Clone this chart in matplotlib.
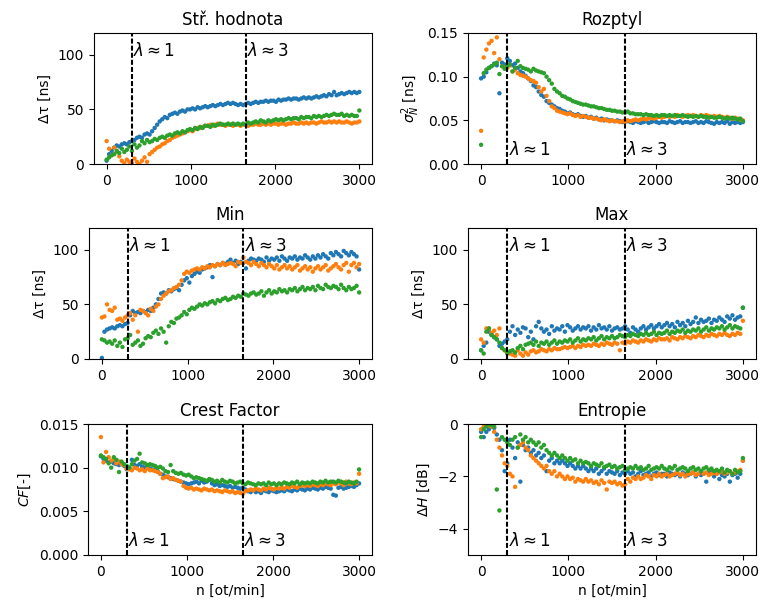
import numpy as np
import matplotlib
matplotlib.use("Agg")
import matplotlib.pyplot as plt

# rpm axis
n_rpm = list(range(0, 3001, 30))

# ---- Stř. hodnota [ns]
mean_blue = [3, 9, 12, 15, 17, 16, 18, 19, 18, 20,
             21, 22, 24, 25, 24, 27, 28, 27, 30, 33,
             36, 39, 41, 43, 42, 45, 46, 47, 46, 48,
             49, 48, 50, 50, 51, 50, 52, 51, 52, 53,
             52, 53, 54, 53, 54, 55, 54, 55, 56, 55,
             56, 55, 54, 55, 54, 55, 56, 55, 56, 57,
             56, 57, 57, 58, 57, 58, 58, 57, 59, 58,
             59, 59, 60, 59, 60, 60, 59, 60, 61, 60,
             61, 60, 61, 62, 61, 62, 63, 62, 64, 63,
             66, 63, 64, 65, 64, 65, 66, 65, 66, 65,
             66]
mean_orange = [21, 14, 8, 15, 11, 7, 3, 1, 4, 2,
               1, 5, 2, 0, 3, 6, 2, 9, 11, 13,
               15, 16, 18, 19, 21, 22, 24, 25, 26, 27,
               28, 29, 30, 31, 30, 32, 33, 33, 34, 35,
               35, 36, 35, 36, 37, 36, 36, 35, 36, 36,
               35, 36, 36, 35, 36, 36, 35, 36, 36, 37,
               36, 36, 37, 36, 37, 36, 37, 37, 36, 37,
               37, 36, 37, 37, 38, 37, 37, 38, 37, 38,
               37, 38, 38, 37, 38, 39, 38, 38, 39, 38,
               39, 38, 39, 38, 38, 39, 38, 37, 38, 38,
               39]
mean_green = [4, 6, 8, 9, 12, 10, 14, 11, 13, 16,
              12, 18, 15, 17, 21, 19, 22, 20, 21, 23,
              22, 24, 25, 24, 26, 27, 26, 28, 29, 28,
              30, 29, 31, 32, 31, 33, 32, 34, 33, 35,
              35, 34, 36, 35, 36, 37, 36, 36, 37, 36,
              37, 36, 37, 36, 37, 36, 38, 37, 38, 39,
              38, 40, 39, 38, 40, 39, 40, 41, 40, 41,
              40, 41, 42, 41, 42, 42, 41, 43, 42, 43,
              43, 42, 44, 43, 44, 43, 44, 45, 44, 45,
              46, 45, 45, 46, 44, 45, 44, 45, 44, 44,
              49]

# ---- Rozptyl [ns]
var_blue = [0.098, 0.100, 0.105, 0.110, 0.112, 0.115, 0.113, 0.081, 0.116, 0.114,
            0.121, 0.118, 0.113, 0.115, 0.110, 0.106, 0.104, 0.101, 0.098, 0.095,
            0.090, 0.088, 0.083, 0.079, 0.077, 0.072, 0.070, 0.068, 0.066, 0.064,
            0.063, 0.061, 0.060, 0.058, 0.059, 0.057, 0.056, 0.057, 0.055, 0.054,
            0.055, 0.053, 0.054, 0.052, 0.053, 0.051, 0.052, 0.050, 0.051, 0.050,
            0.050, 0.049, 0.050, 0.049, 0.048, 0.050, 0.049, 0.048, 0.047, 0.049,
            0.048, 0.047, 0.048, 0.049, 0.047, 0.048, 0.049, 0.048, 0.047, 0.048,
            0.048, 0.047, 0.049, 0.048, 0.047, 0.048, 0.049, 0.047, 0.048, 0.048,
            0.047, 0.048, 0.049, 0.047, 0.048, 0.047, 0.049, 0.048, 0.047, 0.046,
            0.048, 0.047, 0.048, 0.047, 0.049, 0.046, 0.048, 0.047, 0.048, 0.047,
            0.048]
var_orange = [0.038, 0.122, 0.131, 0.138, 0.141, 0.127, 0.145, 0.120, 0.112, 0.110,
              0.110, 0.113, 0.106, 0.108, 0.104, 0.102, 0.101, 0.100, 0.098, 0.096,
              0.095, 0.093, 0.088, 0.083, 0.086, 0.078, 0.072, 0.066, 0.064, 0.061,
              0.060, 0.059, 0.058, 0.057, 0.058, 0.056, 0.055, 0.056, 0.054, 0.055,
              0.054, 0.053, 0.053, 0.052, 0.052, 0.051, 0.050, 0.051, 0.050, 0.049,
              0.050, 0.049, 0.049, 0.048, 0.049, 0.048, 0.050, 0.049, 0.050, 0.051,
              0.050, 0.051, 0.052, 0.051, 0.052, 0.053, 0.052, 0.053, 0.054, 0.053,
              0.054, 0.055, 0.054, 0.055, 0.054, 0.056, 0.055, 0.054, 0.055, 0.056,
              0.055, 0.056, 0.055, 0.054, 0.056, 0.055, 0.056, 0.055, 0.054, 0.055,
              0.054, 0.055, 0.054, 0.053, 0.054, 0.053, 0.052, 0.053, 0.052, 0.051,
              0.050]
var_green = [0.022, 0.104, 0.108, 0.110, 0.112, 0.114, 0.116, 0.103, 0.112, 0.109,
             0.112, 0.114, 0.106, 0.110, 0.118, 0.112, 0.110, 0.109, 0.108, 0.106,
             0.109, 0.107, 0.106, 0.105, 0.104, 0.100, 0.096, 0.092, 0.086, 0.083,
             0.081, 0.078, 0.077, 0.075, 0.074, 0.072, 0.071, 0.070, 0.069, 0.068,
             0.068, 0.067, 0.066, 0.066, 0.065, 0.064, 0.064, 0.063, 0.062, 0.062,
             0.061, 0.061, 0.060, 0.060, 0.059, 0.059, 0.060, 0.058, 0.058, 0.057,
             0.057, 0.057, 0.056, 0.057, 0.056, 0.056, 0.055, 0.056, 0.055, 0.056,
             0.056, 0.055, 0.056, 0.055, 0.056, 0.055, 0.055, 0.056, 0.055, 0.054,
             0.055, 0.054, 0.055, 0.054, 0.055, 0.054, 0.054, 0.053, 0.054, 0.053,
             0.053, 0.054, 0.053, 0.052, 0.053, 0.052, 0.053, 0.052, 0.051, 0.052,
             0.049]

# ---- Min [ns]
min_blue = [1, 25, 27, 28, 29, 28, 30, 31, 30, 32,
            33, 40, 44, 42, 43, 42, 44, 43, 45, 44,
            47, 50, 55, 60, 61, 60, 63, 62, 64, 65,
            63, 68, 72, 74, 70, 76, 78, 80, 79, 82,
            83, 84, 86, 75, 85, 87, 86, 88, 87, 89,
            91, 88, 90, 87, 89, 88, 83, 90, 92, 91,
            90, 92, 91, 89, 93, 90, 92, 91, 93, 90,
            94, 92, 90, 93, 92, 94, 91, 93, 92, 95,
            93, 91, 94, 92, 95, 93, 96, 94, 92, 97,
            95, 98, 96, 94, 99, 97, 95, 98, 96, 94,
            82]
min_orange = [38, 39, 50, 45, 44, 47, 36, 37, 35, 38,
              40, 42, 36, 40, 25, 45, 44, 42, 40, 46,
              44, 48, 50, 55, 58, 60, 62, 63, 65, 66,
              68, 72, 78, 80, 79, 81, 82, 83, 82, 84,
              83, 85, 84, 86, 85, 87, 86, 88, 86, 87,
              88, 87, 85, 89, 88, 93, 89, 88, 86, 89,
              87, 85, 88, 86, 84, 87, 85, 83, 86, 82,
              84, 86, 83, 85, 82, 84, 86, 81, 83, 85,
              82, 84, 80, 83, 85, 82, 84, 86, 81, 83,
              85, 87, 84, 82, 86, 88, 80, 86, 88, 84,
              87]
min_green = [18, 17, 15, 16, 14, 17, 12, 15, 11, 18,
             19, 22, 13, 15, 17, 12, 14, 19, 21, 20,
             24, 26, 23, 28, 25, 15, 30, 34, 33, 37,
             38, 40, 43, 41, 45, 47, 46, 48, 50, 49,
             51, 50, 52, 53, 51, 54, 53, 55, 56, 54,
             55, 57, 56, 58, 57, 60, 59, 58, 60, 61,
             59, 60, 62, 58, 61, 63, 60, 62, 61, 64,
             62, 63, 61, 64, 63, 65, 62, 64, 66, 63,
             65, 64, 66, 63, 67, 65, 64, 68, 66, 65,
             67, 66, 64, 68, 65, 63, 66, 64, 65, 67,
             61]

# ---- Max [ns]
max_blue = [8, 12, 15, 25, 22, 20, 18, 12, 14, 16,
            18, 25, 30, 22, 27, 24, 29, 28, 20, 25,
            18, 30, 34, 28, 25, 27, 23, 30, 26, 28,
            27, 30, 25, 31, 29, 26, 28, 30, 27, 29,
            28, 30, 26, 29, 27, 31, 28, 29, 27, 30,
            26, 28, 29, 27, 28, 30, 27, 24, 29, 27,
            25, 28, 30, 27, 29, 31, 28, 30, 32, 29,
            31, 33, 30, 32, 29, 34, 31, 33, 30, 35,
            32, 34, 38, 33, 36, 34, 35, 37, 33, 36,
            35, 38, 36, 34, 39, 37, 40, 36, 38, 39,
            47]
max_orange = [18, 15, 28, 28, 24, 26, 22, 28, 10, 8,
              6, 5, 4, 3, 8, 5, 3, 6, 4, 7,
              8, 6, 7, 9, 8, 7, 9, 8, 10, 9,
              9, 10, 11, 10, 11, 12, 10, 12, 11, 13,
              12, 13, 12, 14, 13, 12, 14, 13, 15, 14,
              13, 15, 14, 8, 15, 14, 16, 15, 17, 16,
              15, 17, 16, 18, 17, 16, 18, 17, 19, 18,
              18, 19, 17, 20, 19, 18, 20, 19, 21, 20,
              19, 21, 20, 22, 21, 20, 22, 21, 23, 22,
              21, 23, 22, 24, 22, 21, 23, 22, 24, 23,
              35]
max_green = [8, 5, 25, 28, 22, 20, 18, 15, 10, 8,
             5, 7, 8, 6, 10, 12, 9, 13, 14, 15,
             13, 16, 12, 15, 14, 16, 13, 15, 17, 14,
             16, 15, 17, 16, 18, 15, 17, 19, 16, 18,
             17, 19, 18, 20, 17, 19, 21, 18, 20, 19,
             21, 19, 20, 22, 21, 20, 22, 21, 23, 22,
             21, 23, 22, 24, 22, 23, 25, 22, 24, 23,
             24, 26, 23, 25, 24, 26, 25, 27, 24, 26,
             25, 27, 26, 28, 25, 27, 29, 26, 28, 27,
             29, 28, 30, 27, 29, 31, 28, 30, 29, 28,
             47]

# ---- Crest Factor [-]
cf_blue = [0.0113, 0.0110, 0.0108, 0.0106, 0.0107, 0.0105, 0.0104, 0.0103, 0.0104, 0.0102,
           0.0098, 0.0100, 0.0109, 0.0103, 0.0102, 0.0104, 0.0101, 0.0100, 0.0102, 0.0099,
           0.0098, 0.0097, 0.0096, 0.0093, 0.0092, 0.0090, 0.0089, 0.0088, 0.0087, 0.0086,
           0.0085, 0.0084, 0.0083, 0.0082, 0.0081, 0.0082, 0.0083, 0.0084, 0.0082, 0.0085,
           0.0083, 0.0084, 0.0086, 0.0082, 0.0080, 0.0081, 0.0079, 0.0080, 0.0079, 0.0078,
           0.0079, 0.0077, 0.0078, 0.0077, 0.0076, 0.0077, 0.0075, 0.0073, 0.0072, 0.0074,
           0.0072, 0.0073, 0.0071, 0.0074, 0.0073, 0.0072, 0.0074, 0.0073, 0.0072, 0.0073,
           0.0074, 0.0073, 0.0075, 0.0074, 0.0073, 0.0075, 0.0074, 0.0076, 0.0075, 0.0074,
           0.0076, 0.0075, 0.0077, 0.0076, 0.0075, 0.0077, 0.0076, 0.0078, 0.0077, 0.0076,
           0.0069, 0.0068, 0.0077, 0.0078, 0.0076, 0.0077, 0.0078, 0.0079, 0.0078, 0.0080,
           0.0082]
cf_orange = [0.0135, 0.0106, 0.0118, 0.0112, 0.0108, 0.0110, 0.0105, 0.0107, 0.0104, 0.0103,
             0.0099, 0.0098, 0.0097, 0.0100, 0.0099, 0.0097, 0.0098, 0.0096, 0.0099, 0.0097,
             0.0097, 0.0096, 0.0095, 0.0093, 0.0088, 0.0089, 0.0090, 0.0087, 0.0088, 0.0086,
             0.0085, 0.0084, 0.0079, 0.0077, 0.0076, 0.0077, 0.0075, 0.0076, 0.0075, 0.0074,
             0.0076, 0.0075, 0.0074, 0.0075, 0.0073, 0.0074, 0.0073, 0.0072, 0.0074, 0.0073,
             0.0072, 0.0073, 0.0071, 0.0072, 0.0071, 0.0070, 0.0073, 0.0074, 0.0075, 0.0074,
             0.0076, 0.0075, 0.0074, 0.0076, 0.0075, 0.0077, 0.0076, 0.0075, 0.0077, 0.0076,
             0.0077, 0.0076, 0.0078, 0.0077, 0.0079, 0.0078, 0.0077, 0.0079, 0.0080, 0.0079,
             0.0080, 0.0079, 0.0081, 0.0080, 0.0079, 0.0081, 0.0080, 0.0082, 0.0081, 0.0080,
             0.0082, 0.0081, 0.0083, 0.0082, 0.0080, 0.0084, 0.0082, 0.0081, 0.0083, 0.0082,
             0.0093]
cf_green = [0.0114, 0.0112, 0.0110, 0.0105, 0.0100, 0.0112, 0.0109, 0.0095, 0.0107, 0.0104,
            0.0102, 0.0100, 0.0104, 0.0108, 0.0110, 0.0116, 0.0106, 0.0105, 0.0103, 0.0104,
            0.0103, 0.0102, 0.0100, 0.0101, 0.0099, 0.0096, 0.0095, 0.0103, 0.0096, 0.0094,
            0.0093, 0.0094, 0.0092, 0.0091, 0.0092, 0.0090, 0.0088, 0.0089, 0.0088, 0.0087,
            0.0086, 0.0085, 0.0087, 0.0086, 0.0084, 0.0085, 0.0083, 0.0086, 0.0084, 0.0083,
            0.0085, 0.0084, 0.0082, 0.0083, 0.0084, 0.0082, 0.0081, 0.0083, 0.0082, 0.0081,
            0.0080, 0.0082, 0.0081, 0.0082, 0.0080, 0.0083, 0.0081, 0.0082, 0.0080, 0.0082,
            0.0081, 0.0083, 0.0082, 0.0081, 0.0083, 0.0082, 0.0084, 0.0081, 0.0083, 0.0082,
            0.0083, 0.0082, 0.0084, 0.0083, 0.0082, 0.0084, 0.0083, 0.0085, 0.0083, 0.0084,
            0.0084, 0.0083, 0.0085, 0.0084, 0.0083, 0.0082, 0.0084, 0.0083, 0.0082, 0.0084,
            0.0098]

# ---- Entropie [dB]
ent_blue = [-0.3, -0.5, -0.3, -0.2, -0.1, -0.15, -0.4, -0.6, -1.0, -1.8,
            -1.5, -0.6, -0.9, -1.3, -0.7, -2.2, -0.8, -1.0, -0.9, -1.1,
            -1.0, -1.2, -1.1, -1.3, -1.2, -1.8, -1.4, -1.3, -1.5, -1.4,
            -1.5, -1.4, -1.5, -1.6, -1.5, -1.6, -1.7, -1.6, -1.7, -1.6,
            -1.7, -1.8, -1.7, -1.8, -1.7, -1.9, -1.8, -1.7, -1.9, -1.8,
            -1.85, -1.9, -1.8, -1.95, -1.85, -1.9, -1.8, -1.9, -1.85, -2.0,
            -1.9, -1.8, -1.95, -1.9, -1.85, -2.0, -1.9, -1.85, -1.95, -1.9,
            -1.9, -2.0, -1.85, -1.9, -1.95, -1.9, -2.0, -1.85, -1.9, -1.95,
            -1.9, -1.85, -2.0, -1.9, -1.95, -1.9, -2.2, -1.9, -1.85, -2.0,
            -1.9, -2.1, -1.95, -2.0, -1.9, -2.2, -1.95, -1.9, -2.05, -1.9,
            -1.4]
ent_orange = [-0.2, -0.1, 0.0, -0.05, -0.1, -0.3, -0.6, -0.9, -1.2, -1.5,
              -1.6, -1.9, -2.0, -2.4, -0.9, -0.8, -0.7, -0.9, -1.0, -1.2,
              -1.3, -1.4, -1.5, -1.6, -1.7, -1.6, -1.8, -1.9, -1.8, -2.0,
              -1.9, -2.0, -2.1, -2.0, -2.1, -2.05, -2.2, -2.1, -2.15, -2.2,
              -2.1, -2.2, -2.15, -2.25, -2.2, -2.3, -2.15, -2.25, -2.5, -2.2,
              -2.25, -2.2, -2.3, -2.25, -2.35, -2.3, -2.1, -2.2, -2.05, -2.1,
              -2.0, -2.1, -2.05, -1.95, -2.0, -2.1, -1.95, -2.0, -1.9, -2.0,
              -1.95, -1.9, -2.0, -1.95, -1.9, -1.85, -1.95, -1.9, -2.0, -1.9,
              -1.9, -1.85, -1.95, -1.9, -1.8, -1.9, -1.85, -1.95, -1.9, -1.85,
              -1.9, -1.85, -1.8, -1.9, -1.85, -1.8, -1.9, -1.85, -1.8, -1.75,
              -1.4]
ent_green = [-0.5, -0.2, -0.1, 0.0, -0.05, -0.1, -2.5, -3.3, -0.5, -0.6,
             -0.7, -0.8, -0.6, -0.5, -0.9, -0.4, -0.6, -0.5, -0.7, -0.6,
             -0.7, -0.8, -0.7, -0.9, -0.8, -1.0, -1.1, -1.2, -1.1, -1.2,
             -1.3, -1.2, -1.3, -1.4, -1.3, -1.4, -1.35, -1.5, -1.4, -1.5,
             -1.45, -1.5, -1.6, -1.5, -1.55, -1.6, -1.5, -1.65, -1.6, -1.55,
             -1.65, -1.6, -1.7, -1.65, -1.6, -1.75, -1.7, -1.65, -1.7, -1.6,
             -1.7, -1.65, -1.75, -1.7, -1.6, -1.75, -1.7, -1.65, -1.7, -1.6,
             -1.7, -1.75, -1.65, -1.7, -1.6, -1.75, -1.7, -1.65, -1.7, -1.8,
             -1.7, -1.65, -1.75, -1.7, -1.8, -1.7, -1.65, -1.75, -1.7, -1.8,
             -1.75, -1.8, -1.7, -1.85, -1.75, -1.8, -1.9, -1.75, -1.85, -1.8,
             -1.3]

lambda_positions = [300, 1650]
lambda_labels = [r'$\lambda \approx 1$', r'$\lambda \approx 3$']

panels = [
    ("Stř. hodnota", "Δτ [ns]", (mean_blue, mean_orange, mean_green), (0, 120), [0, 50, 100], "top"),
    ("Rozptyl", r"$\sigma_N^2$ [ns]", (var_blue, var_orange, var_green), (0, 0.15), [0, 0.05, 0.10, 0.15], "bottom"),
    ("Min", "Δτ [ns]", (min_blue, min_orange, min_green), (0, 120), [0, 50, 100], "top"),
    ("Max", "Δτ [ns]", (max_blue, max_orange, max_green), (0, 120), [0, 50, 100], "top"),
    ("Crest Factor", r"$CF$[-]", (cf_blue, cf_orange, cf_green), (0, 0.015), [0, 0.005, 0.010, 0.015], "bottom"),
    ("Entropie", r"$\Delta H$ [dB]", (ent_blue, ent_orange, ent_green), (-5, 0), [-4, -2, 0], "bottom"),
]

W, H = 765, 610
fig = plt.figure(figsize=(W / 100, H / 100), dpi=100)

# axes boxes in pixels: (left, top, right, bottom)
boxes = [
    (94, 33, 372, 164), (468, 33, 756, 164),
    (89, 228, 372, 359), (468, 228, 756, 359),
    (88, 424, 372, 555), (468, 424, 756, 555),
]
colors = ['#1f77b4', '#ff7f0e', '#2ca02c']

for k, (title, ylabel, series, ylim, yticks, lampos) in enumerate(panels):
    l, t, r, b = boxes[k]
    ax = fig.add_axes([l / W, 1 - b / H, (r - l) / W, (b - t) / H])
    for s, c in zip(series, colors):
        ax.scatter(n_rpm, s, s=10, color=c, edgecolors='none')
    ax.set_ylim(*ylim)
    ax.set_yticks(yticks)
    ax.set_xticks([0, 1000, 2000, 3000])
    ax.set_title(title, fontsize=12)
    ax.set_ylabel(ylabel, fontsize=10)
    for xv, lab in zip(lambda_positions, lambda_labels):
        ax.axvline(xv, color='black', linestyle=(0, (2.4, 1.0)), linewidth=1.5)
        if lampos == "top":
            yy = ylim[0] + 0.86 * (ylim[1] - ylim[0])
        else:
            yy = ylim[0] + 0.11 * (ylim[1] - ylim[0])
        ax.text(xv + 15, yy, lab, fontsize=12, va='center', ha='left')
    if k >= 4:
        ax.set_xlabel("n [ot/min]", fontsize=10)

fig.savefig("out.png", dpi=100)
